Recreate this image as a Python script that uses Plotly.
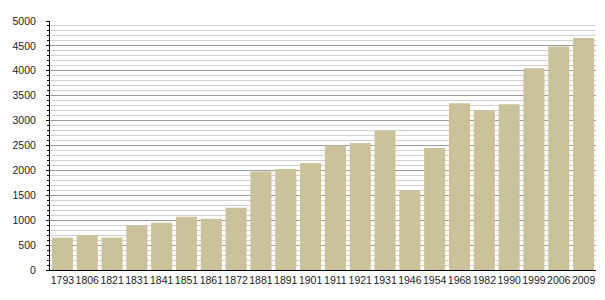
import plotly.graph_objects as go

years = ["1793", "1806", "1821", "1831", "1841", "1851", "1861", "1872", "1881", "1891", "1901",
         "1911", "1921", "1931", "1946", "1954", "1968", "1982", "1990", "1999", "2006", "2009"]
population = [650, 700, 650, 900, 950, 1070, 1030, 1250, 1980, 2030, 2150,
              2500, 2550, 2800, 1600, 2450, 3350, 3210, 3330, 4050, 4490, 4660]
y_ticks = [0, 500, 1000, 1500, 2000, 2500, 3000, 3500, 4000, 4500, 5000]

fig = go.Figure(go.Bar(x=years, y=population, marker=dict(color="#cbc29b", line=dict(width=0))))

fig.update_layout(
    width=605, height=300,
    margin=dict(l=50, r=9, t=21, b=30, autoexpand=False),
    paper_bgcolor="white", plot_bgcolor="white",
    bargap=0.15,
    showlegend=False,
    font=dict(family="Liberation Sans, Arial, sans-serif", size=10.5, color="#222"),
)
fig.update_xaxes(
    type="category", showline=True, linecolor="black", linewidth=1,
    ticks="", showgrid=False, tickfont=dict(size=10.5), tickangle=0, automargin=False,
)
fig.update_yaxes(
    range=[0, 5000], tickvals=y_ticks, showline=True, linecolor="black", linewidth=1,
    ticks="outside", ticklen=3, tickcolor="black", tickwidth=1, ticklabelstandoff=8,
    showgrid=True, gridcolor="#9a9a9a", gridwidth=1, zeroline=False,
    minor=dict(dtick=100, showgrid=True, gridcolor="#d2d2d2", gridwidth=1,
               ticks="outside", ticklen=2, tickcolor="black"),
    layer="below traces", automargin=False,
)

fig.write_html("out.html")
